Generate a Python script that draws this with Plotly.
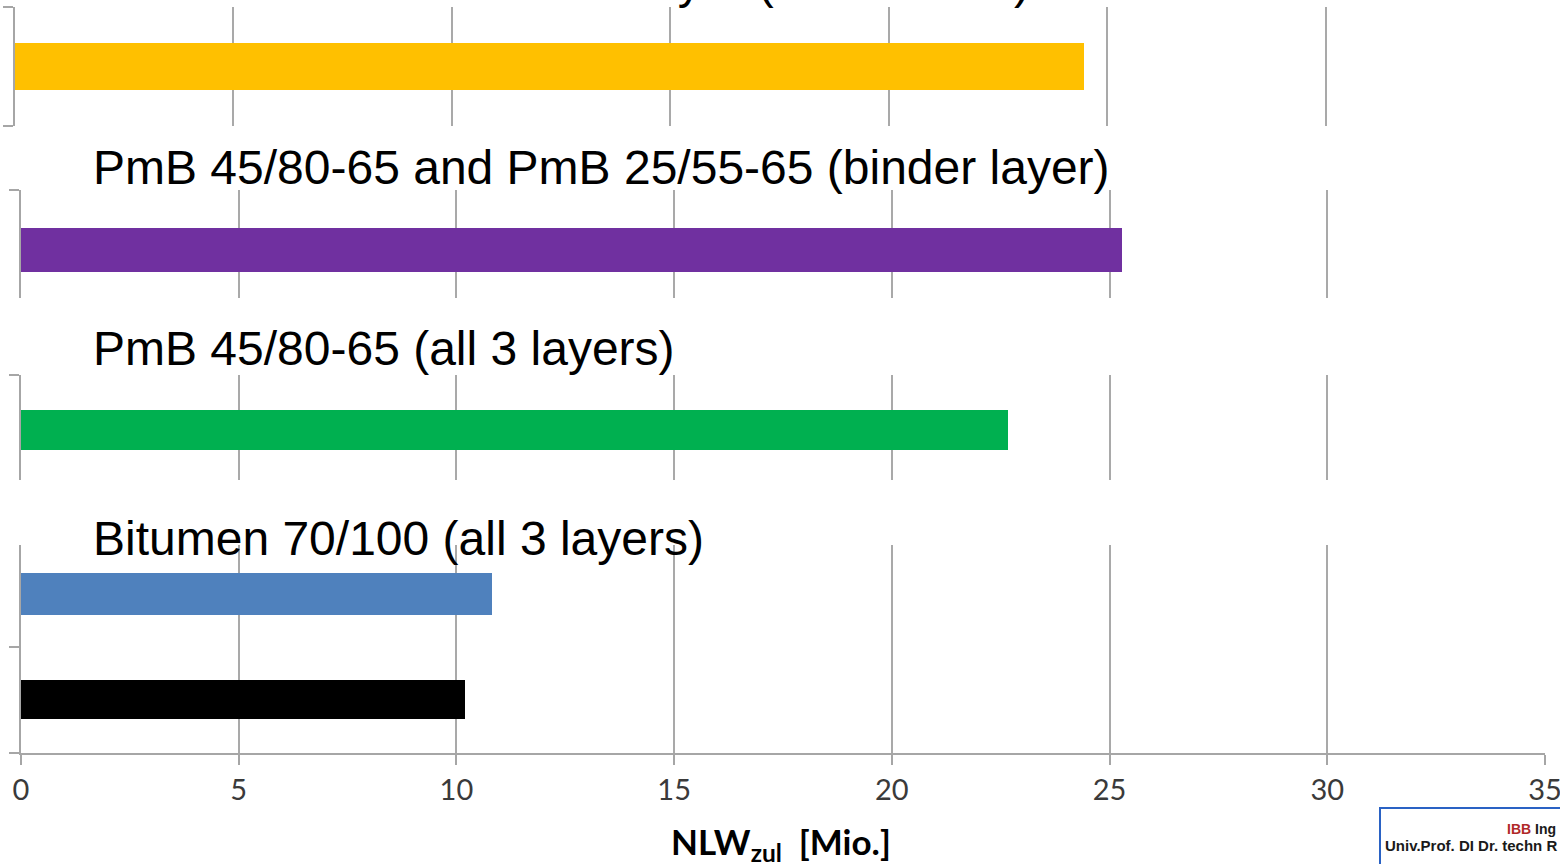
import plotly.graph_objects as go

# ---- data -------------------------------------------------------------
panel_titles = [
    "PmB 25/55-65 in the base layer (70/100 rest)",
    "PmB 45/80-65 and PmB 25/55-65 (binder layer)",
    "PmB 45/80-65 (all 3 layers)",
    "Bitumen 70/100 (all 3 layers)",
]
yellow_vals = [24.47]
purple_vals = [25.29]
green_vals = [22.67]
bitumen_vals = [10.2, 10.82]          # black (lower), blue (upper)
bitumen_colors = ["#000000", "#4F81BD"]
x_ticks = [0, 5, 10, 15, 20, 25, 30, 35]
x_label = "NLW<sub>zul</sub>  [Mio.]"

# ---- layout helpers ---------------------------------------------------
W, H = 1560, 864
def fx(px):
    return px / W
def fy(py):
    return 1 - py / H

GRID = "#a9a9a9"
AX = "#a6a6a6"
TITLE_FONT = dict(family="Liberation Sans, Arial, sans-serif", size=48, color="#000000")
TICK_FONT = dict(family="Lato, Carlito, sans-serif", size=29, color="#3a3a3a")

fig = go.Figure()

# panel geometry: (x0, x1, ytop, ybottom, yrange, yticks)
panels = [
    (15, 1544, 7, 126, [-0.5, 0.5], [-0.499, 0.499]),
    (21, 1545, 190, 298, [-0.444, 0.556], [0.555]),
    (21, 1545, 375, 480, [-0.476, 0.524], [0.523]),
    (21, 1545, 545, 753, [-0.507, 1.464], [-0.506, 0.5]),
]

bars = [
    (yellow_vals, [0], ["#FFC000"], [0.39]),
    (purple_vals, [0], ["#7030A0"], [0.41]),
    (green_vals, [0], ["#00B050"], [0.38]),
    (bitumen_vals, [0, 1], bitumen_colors, [0.37, 0.40]),
]

for i, ((x0, x1, yt, yb, yr, ytv), (vals, cats, cols, wid)) in enumerate(zip(panels, bars)):
    n = "" if i == 0 else str(i + 1)
    fig.add_trace(go.Bar(
        x=vals, y=cats, orientation="h",
        marker=dict(color=cols, line=dict(width=0)),
        width=wid, xaxis="x" + n, yaxis="y" + n, showlegend=False,
    ))
    last = i == 3
    fig.layout["xaxis" + n] = dict(
        domain=[fx(x0), fx(x1)], anchor="y" + n, range=[0, 35],
        tickvals=x_ticks, showgrid=True, gridcolor=GRID, gridwidth=1.6,
        zeroline=False, showline=last, linecolor=AX, linewidth=1.6,
        ticks="outside" if last else "", ticklen=10, tickcolor=AX, tickwidth=1.6,
        showticklabels=last, tickfont=TICK_FONT, fixedrange=True,
        automargin=False, ticklabeloverflow="allow",
    )
    fig.layout["yaxis" + n] = dict(
        domain=[fy(yb), fy(yt)], anchor="x" + n, range=yr,
        tickvals=ytv, ticks="outside", ticklen=10, tickcolor=AX, tickwidth=1.6,
        showticklabels=False, showgrid=False, zeroline=False,
        showline=True, linecolor=AX, linewidth=1.6, fixedrange=True,
        automargin=False,
    )

# panel headings
title_x = [70, 91, 91, 91]
title_y = [-19, 168, 348, 538]
for t, tx, ty in zip(panel_titles, title_x, title_y):
    fig.add_annotation(
        text=t, xref="paper", yref="paper", x=fx(tx), y=fy(ty),
        xanchor="left", yanchor="middle", showarrow=False, font=TITLE_FONT,
    )

# x axis title
fig.add_annotation(
    text=x_label, xref="paper", yref="paper", x=fx(781), y=fy(843),
    xanchor="center", yanchor="middle", showarrow=False,
    font=dict(family="Lato, Carlito, sans-serif", size=35, color="#000000", weight="bold"),
)

# institute badge in the lower right corner
fig.add_shape(
    type="rect", xref="paper", yref="paper",
    x0=fx(1380), x1=fx(1600), y0=fy(900), y1=fy(808),
    line=dict(color="#2a62c4", width=2), fillcolor="#ffffff", layer="above",
)
badge_font = dict(family="Liberation Sans, Arial, sans-serif", size=14, color="#1a1a1a", weight="bold")
fig.add_annotation(
    text="<span style='color:#b02828'>IBB</span> Ing", xref="paper", yref="paper",
    x=fx(1505), y=fy(829), xanchor="left", yanchor="middle", showarrow=False, font=badge_font,
)
fig.add_annotation(
    text="Univ.Prof. DI Dr. techn R", xref="paper", yref="paper",
    x=fx(1383), y=fy(845), xanchor="left", yanchor="middle", showarrow=False,
    font=dict(badge_font, size=15),
)

fig.update_layout(
    width=W, height=H, margin=dict(l=0, r=0, t=0, b=0, autoexpand=False),
    paper_bgcolor="#ffffff", plot_bgcolor="#ffffff", bargap=0,
)

fig.write_html("out.html", config={"displayModeBar": False})
